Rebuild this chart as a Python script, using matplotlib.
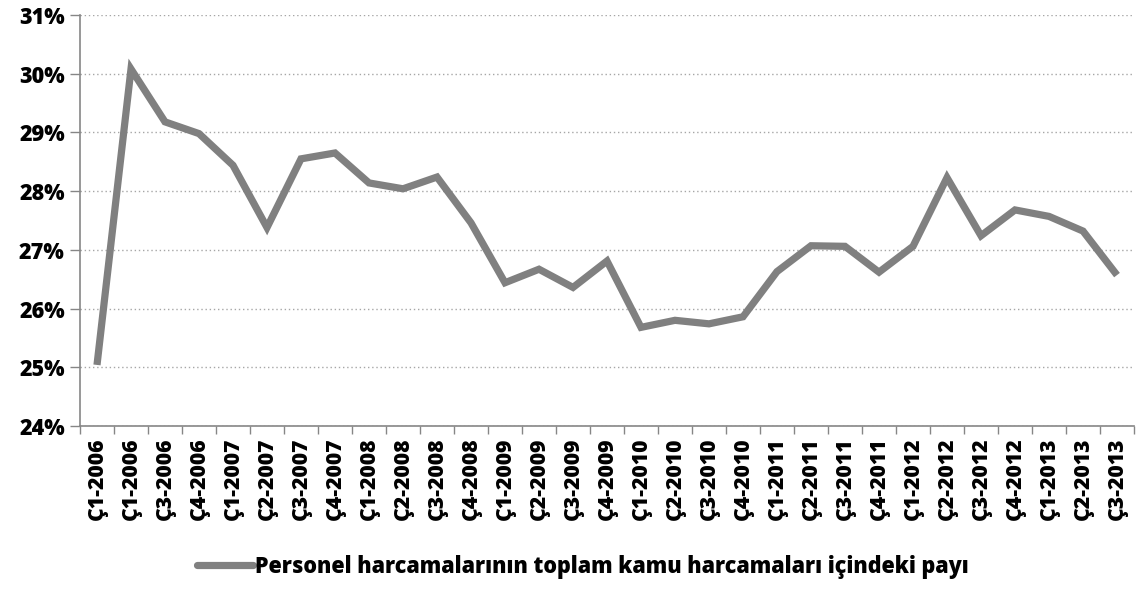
import matplotlib
matplotlib.use("Agg")
import matplotlib.pyplot as plt
from matplotlib.ticker import FuncFormatter, FixedLocator, NullFormatter
import numpy as np

categories = ["Ç1-2006", "Ç1-2006", "Ç3-2006", "Ç4-2006",
              "Ç1-2007", "Ç2-2007", "Ç3-2007", "Ç4-2007",
              "Ç1-2008", "Ç2-2008", "Ç3-2008", "Ç4-2008",
              "Ç1-2009", "Ç2-2009", "Ç3-2009", "Ç4-2009",
              "Ç1-2010", "Ç2-2010", "Ç3-2010", "Ç4-2010",
              "Ç1-2011", "Ç2-2011", "Ç3-2011", "Ç4-2011",
              "Ç1-2012", "Ç2-2012", "Ç3-2012", "Ç4-2012",
              "Ç1-2013", "Ç2-2013", "Ç3-2013"]
values = [25.04, 30.08, 29.18, 28.98,
          28.44, 27.38, 28.55, 28.65,
          28.14, 28.04, 28.24, 27.46,
          26.44, 26.67, 26.36, 26.81,
          25.68, 25.80, 25.74, 25.86,
          26.63, 27.07, 27.06, 26.62,
          27.06, 28.23, 27.24, 27.68,
          27.57, 27.32, 26.57]
series_name = "Personel harcamalarının toplam kamu harcamaları içindeki payı"
y_ticks = [24, 25, 26, 27, 28, 29, 30, 31]

plt.rcParams['font.family'] = ['Open Sans', 'DejaVu Sans']
WEIGHT = 800

fig = plt.figure(figsize=(11.36, 5.89), dpi=100)
ax = fig.add_axes([80/1136, 1-426/589, 1054/1136, 411/589])

x = np.arange(len(categories))
line, = ax.plot(x, values, color='#808080', linewidth=5.2, solid_joinstyle='miter',
                solid_capstyle='butt', label=series_name)

ax.set_xlim(-0.5, len(categories) - 0.5)
ax.set_ylim(y_ticks[0], y_ticks[-1])
ax.set_yticks(y_ticks)
ax.yaxis.set_major_formatter(FuncFormatter(lambda v, p: f"{int(round(v))}%"))
ax.grid(axis='y', color='#a6a6a6', linestyle=(0, (1, 2)), linewidth=1.0)
ax.set_axisbelow(True)

ax.set_xticks(x)
ax.set_xticklabels(categories, rotation=90, fontsize=15.2, fontweight=WEIGHT)
ax.tick_params(axis='x', which='major', length=0, pad=8)
ax.xaxis.set_minor_locator(FixedLocator(np.arange(-0.5, len(categories), 1.0)))
ax.xaxis.set_minor_formatter(NullFormatter())
ax.tick_params(axis='x', which='minor', length=6, color='#868686', width=1)
ax.tick_params(axis='y', length=7, color='#868686', width=1, labelsize=15.5, pad=4)
for lab in ax.get_yticklabels():
    lab.set_fontweight(WEIGHT)

for side in ['top', 'right']:
    ax.spines[side].set_visible(False)
for side in ['left', 'bottom']:
    ax.spines[side].set_color('#868686')
    ax.spines[side].set_linewidth(1.2)

leg = fig.legend(handles=[line], labels=[series_name], loc='center',
                 bbox_to_anchor=(583/1136, 1-567/589), frameon=False,
                 prop={'weight': WEIGHT, 'size': 15.5}, handlelength=2.6, handletextpad=0.1)
leg.get_lines()[0].set_solid_capstyle('round')

fig.savefig('out.png', dpi=100)
